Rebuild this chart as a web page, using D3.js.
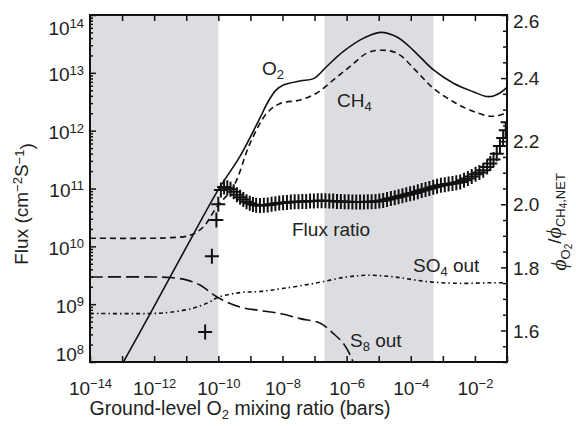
<!DOCTYPE html>
<html>
<head>
<meta charset="utf-8">
<script src="https://cdn.jsdelivr.net/npm/d3@7"></script>
<style>
  body { margin: 0; background: #fff; }
  svg { font-family: "Liberation Sans", Arial, sans-serif; }
  .tick text { font-size: 19px; fill: #222; }
  .note { font-size: 19px; fill: #222; }
</style>
</head>
<body>
<svg id="chart" width="576" height="426"></svg>
<script>
// ---- data (log10 of x in bars, log10 of flux) ----
var o2X   = [-13.2, -12.0, -11.0, -10.0, -9.32, -8.70, -8.45, -8.2, -7.97, -7.45, -7.03, -6.62, -6.10, -5.47, -4.95, -4.43, -3.92, -3.29, -2.67, -2.04, -1.63, -1.42, -1.2, -0.96];
var o2Y   = [7.76, 8.96, 9.98, 10.98, 11.56, 12.22, 12.50, 12.70, 12.79, 12.86, 12.90, 13.11, 13.37, 13.60, 13.70, 13.62, 13.39, 13.05, 12.82, 12.67, 12.59, 12.60, 12.66, 12.77];
var ch4X  = [-14, -12.0, -11.5, -10.88, -10.46, -10.05, -9.53, -9.01, -8.49, -8.07, -7.45, -6.93, -6.41, -5.89, -5.37, -4.95, -4.43, -3.81, -3.29, -2.67, -2.04, -1.52, -1.2, -0.96];
var ch4Y  = [10.14, 10.14, 10.15, 10.19, 10.34, 10.68, 11.03, 11.78, 12.30, 12.47, 12.53, 12.65, 12.88, 13.11, 13.34, 13.39, 13.34, 13.02, 12.73, 12.50, 12.33, 12.25, 12.27, 12.33];
var s8X   = [-14, -12.0, -11.5, -11.0, -10.57, -10.0, -9.32, -8.70, -8.0, -7.45, -6.82, -6.41, -6.10, -5.84, -5.72];
var s8Y   = [9.47, 9.47, 9.46, 9.42, 9.33, 9.11, 8.95, 8.89, 8.83, 8.75, 8.67, 8.49, 8.32, 8.06, 7.85];
var so4X  = [-14, -12.0, -11.5, -10.78, -10.3, -10.0, -9.32, -8.70, -8.0, -7.0, -6.0, -5.3, -4.5, -3.5, -2.5, -1.5, -0.96];
var so4Y  = [8.84, 8.84, 8.86, 8.93, 9.03, 9.12, 9.20, 9.22, 9.27, 9.36, 9.47, 9.50, 9.47, 9.39, 9.36, 9.37, 9.37];

// flux ratio markers (log10 x, ratio)
var ratioX = [-10.41, -10.20, -10.06, -10.00, -9.92, -9.82, -9.72, -9.62, -9.52, -9.42, -9.32, -9.22, -9.12, -9.02,
  -8.92, -8.82, -8.70, -8.58, -8.46, -8.34, -8.22, -8.10, -7.98, -7.86, -7.74, -7.62, -7.50, -7.38, -7.26, -7.14,
  -7.02, -6.90, -6.78, -6.66, -6.54, -6.42, -6.30, -6.18, -6.06, -5.94, -5.82, -5.70, -5.58, -5.46, -5.34, -5.22,
  -5.10, -4.98, -4.86, -4.74, -4.62, -4.50, -4.38, -4.26, -4.14, -4.02, -3.90, -3.78, -3.66, -3.54, -3.42, -3.30,
  -3.18, -3.06, -2.94, -2.82, -2.70, -2.58, -2.46, -2.34, -2.22, -2.10, -1.98, -1.86, -1.74, -1.62, -1.52, -1.42,
  -1.32, -1.22, -1.12, -1.04, -0.98];
var ratioY = [1.595, 1.835, 1.95, 2.00, 2.045, 2.055, 2.052, 2.048, 2.04, 2.03, 2.022, 2.015, 2.008, 2.003,
  1.999, 1.997, 1.996, 1.997, 1.998, 2.0, 2.002, 2.004, 2.005, 2.006, 2.007, 2.008, 2.008, 2.009, 2.009, 2.010,
  2.010, 2.011, 2.011, 2.011, 2.010, 2.010, 2.009, 2.009, 2.008, 2.008, 2.007, 2.007, 2.007, 2.007, 2.008, 2.008,
  2.009, 2.010, 2.012, 2.015, 2.018, 2.021, 2.024, 2.027, 2.030, 2.033, 2.036, 2.040, 2.044, 2.047, 2.050, 2.054,
  2.057, 2.060, 2.062, 2.064, 2.066, 2.068, 2.071, 2.076, 2.082, 2.088, 2.095, 2.101, 2.108, 2.118, 2.129, 2.142,
  2.160, 2.185, 2.21, 2.235, 2.26];

// shaded bands (log10 x)
var bands = [[-14, -10], [-6.69, -3.29]];
var xDecades = [-14, -13, -12, -11, -10, -9, -8, -7, -6, -5, -4, -3, -2, -1];
var xLabelled = [-14, -12, -10, -8, -6, -4, -2];
var yDecades = [8, 9, 10, 11, 12, 13, 14];
var rightMajor = [1.6, 1.8, 2.0, 2.2, 2.4, 2.6];

var L = 90, R = 507, T = 15, B = 362;
var svg = d3.select('#chart');
var p10 = function(e){ return Math.pow(10, e); };

var x = d3.scaleLog().domain([1e-14, 1e-1]).range([L, R]);
var y = d3.scaleLog().domain([1e8, 1e14]).range([B, T]);
var yr = d3.scaleLinear().domain([1.5, 2.6]).range([B, T]);

svg.append('defs').append('clipPath').attr('id', 'clip')
  .append('rect').attr('x', L).attr('y', T).attr('width', R - L).attr('height', B - T);

// bands
svg.selectAll('rect.band').data(bands).enter().append('rect')
  .attr('class', 'band')
  .attr('x', function(d){ return x(p10(d[0])); })
  .attr('width', function(d){ return x(p10(d[1])) - x(p10(d[0])); })
  .attr('y', T).attr('height', B - T)
  .attr('fill', '#dcdde0');

var zip = function(xs, ys){ return xs.map(function(v, i){ return [v, ys[i]]; }); };
var line = d3.line()
  .x(function(d){ return x(p10(d[0])); })
  .y(function(d){ return y(p10(d[1])); })
  .curve(d3.curveCatmullRom.alpha(0.5));

var g = svg.append('g').attr('clip-path', 'url(#clip)');
var series = [
  {d: zip(o2X, o2Y), dash: null},
  {d: zip(ch4X, ch4Y), dash: '6,4'},
  {d: zip(s8X, s8Y), dash: '13,5'},
  {d: zip(so4X, so4Y), dash: '4,3,1.5,3'}
];
series.forEach(function(s){
  g.append('path').attr('d', line(s.d))
    .attr('fill', 'none').attr('stroke', '#111').attr('stroke-width', 1.6)
    .attr('stroke-dasharray', s.dash);
});

// flux ratio markers
g.selectAll('path.mk').data(zip(ratioX, ratioY)).enter().append('path')
  .attr('class', 'mk')
  .attr('d', 'M-7,0H7M0,-7.5V7.5')
  .attr('transform', function(d){ return 'translate(' + x(p10(d[0])) + ',' + yr(d[1]) + ')'; })
  .attr('stroke', '#111').attr('stroke-width', 2).attr('fill', 'none');

// axes
var supLabel = function(sel, fmt){
  sel.selectAll('.tick text').each(function(d){
    var t = d3.select(this); var e = fmt(d);
    t.text(null);
    if (e === null) return;
    t.append('tspan').text('10');
    t.append('tspan').attr('dy', '-0.5em').attr('font-size', '13px').text(e);
  });
};

var gx = svg.append('g').attr('transform', 'translate(0,' + B + ')')
  .call(d3.axisBottom(x).tickValues(xDecades.map(p10)).tickSize(-6).tickPadding(12).tickFormat(function(){ return 'a'; }));
supLabel(gx, function(d){
  var e = Math.round(Math.log10(d));
  return xLabelled.indexOf(e) >= 0 ? (e < 0 ? '\u2212' + (-e) : '' + e) : null;
});
gx.selectAll('.tick text').attr('dy', '1.1em');

svg.append('g').attr('transform', 'translate(0,' + T + ')')
  .call(d3.axisTop(x).tickValues(xDecades.map(p10)).tickSize(-6).tickFormat(''));

var yMinor = [];
yDecades.slice(0, -1).forEach(function(e){ for (var k = 1; k < 10; k++) yMinor.push(k * p10(e)); });
yMinor.push(1e14);
var gy = svg.append('g').attr('transform', 'translate(' + L + ',0)')
  .call(d3.axisLeft(y).tickValues(yMinor).tickSize(-6).tickPadding(6).tickFormat(function(){ return 'a'; }));
gy.selectAll('.tick line').attr('x2', function(d){
  var e = Math.log10(d); return Math.abs(e - Math.round(e)) < 1e-6 ? 6 : 3;
});
supLabel(gy, function(d){
  var e = Math.log10(d); return Math.abs(e - Math.round(e)) < 1e-6 ? '' + Math.round(e) : null;
});
gy.selectAll('.tick text').attr('dy', function(d){
  var e = Math.round(Math.log10(d));
  return e === 14 ? '1.0em' : (e === 8 ? '-0.1em' : '0.42em');
});

var rMinor = d3.range(1.5, 2.6001, 0.05);
var gr = svg.append('g').attr('transform', 'translate(' + R + ',0)')
  .call(d3.axisRight(yr).tickValues(rMinor).tickSize(-6).tickPadding(6).tickFormat(d3.format('.1f')));
gr.selectAll('.tick line').attr('x2', function(d){
  return rightMajor.some(function(m){ return Math.abs(m - d) < 1e-6; }) ? -6 : -4;
});
gr.selectAll('.tick text').text(function(d){
  return rightMajor.some(function(m){ return Math.abs(m - d) < 1e-6; }) ? d3.format('.1f')(d) : '';
}).attr('dy', function(d){ return Math.abs(d - 2.6) < 1e-6 ? '0.65em' : '0.35em'; });

svg.selectAll('.domain').attr('stroke', 'none');
svg.selectAll('.tick line').attr('stroke', '#111').attr('stroke-width', 1.5);
svg.append('rect').attr('x', L).attr('y', T).attr('width', R - L).attr('height', B - T)
  .attr('fill', 'none').attr('stroke', '#111').attr('stroke-width', 2);

// annotations: [text, fontSize or null, dy or null]
var note = function(px, py, parts){
  var t = svg.append('text').attr('class', 'note').attr('x', px).attr('y', py);
  parts.forEach(function(p){
    var s = t.append('tspan').text(p[0]);
    if (p[1]) s.attr('font-size', p[1]);
    if (p[2]) s.attr('dy', p[2]);
  });
};
note(262, 75, [['O'], ['2', '13px', '0.3em']]);
note(337, 107, [['CH'], ['4', '13px', '0.3em']]);
note(292, 236, [['Flux ratio']]);
note(413, 272, [['SO'], ['4', '13px', '0.3em'], ['\u00a0out', null, '-0.2em']]);
note(350, 347, [['S'], ['8', '13px', '0.3em'], ['\u00a0out', null, '-0.2em']]);

// axis titles
var xt = svg.append('text').attr('class', 'note').attr('x', 240).attr('y', 415)
  .attr('text-anchor', 'middle').style('font-size', '19.5px');
xt.append('tspan').text('Ground-level O');
xt.append('tspan').attr('font-size', '13px').attr('dy', '0.3em').text('2');
xt.append('tspan').attr('dy', '-0.2em').text('\u00a0mixing ratio (bars)');

var yt = svg.append('text').attr('class', 'note').attr('transform', 'translate(28,204) rotate(-90)').attr('text-anchor', 'middle');
yt.append('tspan').text('Flux (cm');
yt.append('tspan').attr('font-size', '13px').attr('dy', '-0.5em').text('\u22122');
yt.append('tspan').attr('dy', '0.35em').text('S');
yt.append('tspan').attr('font-size', '13px').attr('dy', '-0.35em').text('\u22121');
yt.append('tspan').attr('dy', '0.5em').text(')');

var rt = svg.append('text').attr('class', 'note').attr('transform', 'translate(566,222) rotate(-90)').attr('text-anchor', 'middle');
rt.append('tspan').attr('font-family', 'Liberation Serif').attr('font-style', 'italic').attr('font-size', '22px').text('\u03d5');
rt.append('tspan').attr('font-size', '13px').attr('dy', '0.3em').text('O');
rt.append('tspan').attr('font-size', '10px').attr('dy', '0.2em').text('2');
rt.append('tspan').attr('dy', '-0.55em').text('/');
rt.append('tspan').attr('font-family', 'Liberation Serif').attr('font-style', 'italic').attr('font-size', '22px').text('\u03d5');
rt.append('tspan').attr('font-size', '13px').attr('dy', '0.3em').text('CH');
rt.append('tspan').attr('font-size', '10px').attr('dy', '0.2em').text('4');
rt.append('tspan').attr('font-size', '13px').attr('dy', '-0.2em').text(',NET');
</script>
</body>
</html>
